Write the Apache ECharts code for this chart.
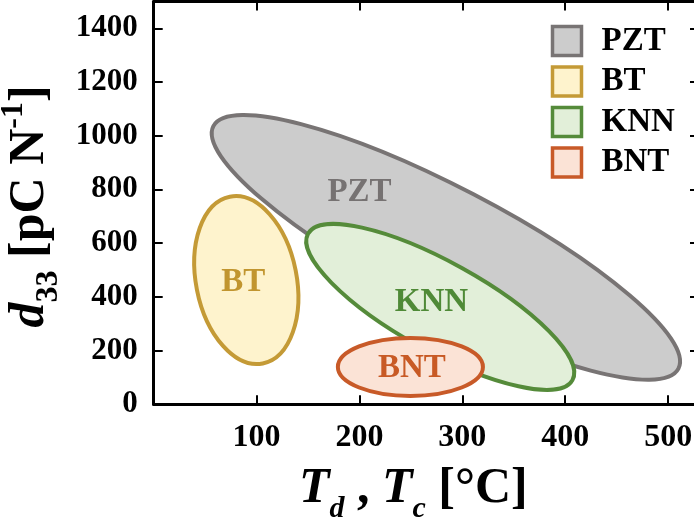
<!DOCTYPE html>
<html>
<head>
<meta charset="utf-8">
<script src="https://cdn.jsdelivr.net/npm/echarts@6/dist/echarts.min.js"></script>
<style>
    html, body { margin: 0; padding: 0; background: #fff; }
    #chart { width: 694px; height: 524px; }
</style>
</head>
<body>
<div id="chart"></div>
<script>
    var materials = ['PZT', 'BT', 'KNN', 'BNT'];
    // each region is an ellipse: two ends of its long axis [T, d33], and short/long axis ratio
    var axisStart = [[58, 1036], [74, 773], [150, 635], [179, 139]];
    var axisEnd = [[510, 133], [106, 152], [407, 90], [320, 139]];
    var widthRatio = [0.228, 0.592, 0.295, 0.4];
    // where the name sits inside each region
    var labelAt = [[200, 790], [87, 454], [270, 379], [251, 132]];
    var fillColors = ['#cccccc', '#fef3cd', '#e2efd9', '#fbe3d6'];
    var edgeColors = ['#787474', '#c49a36', '#558b3a', '#c85a28'];
    var textColors = ['#767272', '#c1952f', '#4f8a37', '#c85a25'];
    var drawOrder = ['PZT', 'KNN', 'BT', 'BNT'];

    var xTicks = [100, 200, 300, 400, 500];
    var yTicks = [0, 200, 400, 600, 800, 1000, 1200, 1400];

    var font = '"Liberation Serif", "Times New Roman", serif';

    var chartDom = document.getElementById('chart');
    var myChart = echarts.init(chartDom);
    var option;

    function renderRegion(params, api) {
        var i = materials.indexOf(params.seriesName);
        var p1 = api.coord([api.value(0), api.value(1)]);
        var p2 = api.coord([api.value(2), api.value(3)]);
        var dx = p2[0] - p1[0];
        var dy = p2[1] - p1[1];
        var a = Math.sqrt(dx * dx + dy * dy) / 2;
        var b = a * api.value(4);
        var t = api.coord([api.value(5), api.value(6)]);
        return {
            type: 'group',
            children: [{
                type: 'ellipse',
                x: (p1[0] + p2[0]) / 2,
                y: (p1[1] + p2[1]) / 2,
                rotation: -Math.atan2(dy, dx),
                shape: { cx: 0, cy: 0, rx: a, ry: b },
                style: { fill: fillColors[i], stroke: edgeColors[i], lineWidth: 4 }
            }, {
                type: 'text',
                x: t[0],
                y: t[1],
                style: {
                    text: materials[i],
                    fill: textColors[i],
                    fontFamily: font,
                    fontWeight: 'bold',
                    fontSize: 33,
                    align: 'center',
                    verticalAlign: 'middle'
                }
            }]
        };
    }

    var axisLine = { show: true, onZero: false, lineStyle: { color: '#000', width: 3 } };
    var axisTick = { show: true, inside: true, length: 9, lineStyle: { color: '#000', width: 2 } };

    option = {
        animation: false,
        backgroundColor: '#fff',
        grid: { left: 153.7, top: 1.5, right: -5, bottom: 119.7, outerBoundsMode: 'none', containLabel: false },
        legend: {
            orient: 'vertical',
            left: 550.75,
            top: 24.5,
            padding: 0,
            itemWidth: 29,
            itemHeight: 29,
            itemGap: 7.5,
            icon: 'rect',
            textStyle: { fontFamily: font, fontWeight: 'bold', fontSize: 33, color: '#000', padding: [0, 0, 0, 15] },
            data: materials.map(function (m, i) {
                return { name: m, itemStyle: { color: fillColors[i], borderColor: edgeColors[i], borderWidth: 3.5 } };
            })
        },
        xAxis: [{
            type: 'value',
            min: 0,
            max: 530,
            interval: 100,
            position: 'bottom',
            axisLine: axisLine,
            axisTick: axisTick,
            splitLine: { show: false },
            axisLabel: {
                margin: 17,
                fontFamily: font,
                fontWeight: 'bold',
                fontSize: 32,
                color: '#000',
                formatter: function (v) { return xTicks.indexOf(v) >= 0 ? String(v) : ''; }
            },
            name: '{i|T}{s|d}{m| , }{i|T}{s|c}{m| [°C]}',
            nameLocation: 'middle',
            nameGap: 60,
            nameTextStyle: {
                padding: [0, 26, 0, 0],
                rich: {
                    i: { fontFamily: font, fontStyle: 'italic', fontWeight: 'bold', fontSize: 50, lineHeight: 50, verticalAlign: 'top', color: '#000' },
                    m: { fontFamily: font, fontWeight: 'bold', fontSize: 50, lineHeight: 50, verticalAlign: 'top', color: '#000' },
                    s: { fontFamily: font, fontStyle: 'italic', fontWeight: 'bold', fontSize: 30, lineHeight: 30, padding: [30, 0, 0, 0], verticalAlign: 'top', color: '#000' }
                }
            }
        }, {
            type: 'value',
            min: 0,
            max: 530,
            interval: 100,
            position: 'top',
            axisLine: axisLine,
            axisTick: axisTick,
            axisLabel: { show: false },
            splitLine: { show: false }
        }],
        yAxis: [{
            type: 'value',
            min: 0,
            max: 1500,
            interval: 200,
            position: 'left',
            axisLine: axisLine,
            axisTick: axisTick,
            splitLine: { show: false },
            axisLabel: {
                margin: 16,
                fontFamily: font,
                fontWeight: 'bold',
                fontSize: 31,
                color: '#000',
                formatter: function (v) { return yTicks.indexOf(v) >= 0 ? String(v) : ''; }
            },
            name: '{i|d}{s|33}{m| [pC N}{p|-1}{m|]}',
            nameLocation: 'middle',
            nameGap: 86.7,
            nameTextStyle: {
                padding: [0, 7, 0, 0],
                rich: {
                    i: { fontFamily: font, fontStyle: 'italic', fontWeight: 'bold', fontSize: 50, lineHeight: 50, padding: [7, 0, 0, 0], verticalAlign: 'top', color: '#000' },
                    m: { fontFamily: font, fontWeight: 'bold', fontSize: 50, lineHeight: 50, padding: [7, 0, 0, 0], verticalAlign: 'top', color: '#000' },
                    s: { fontFamily: font, fontWeight: 'bold', fontSize: 32, lineHeight: 32, padding: [35, 0, 0, 0], verticalAlign: 'top', color: '#000' },
                    p: { fontFamily: font, fontWeight: 'bold', fontSize: 32, lineHeight: 32, verticalAlign: 'top', color: '#000' }
                }
            }
        }, {
            type: 'value',
            min: 0,
            max: 1500,
            interval: 200,
            position: 'right',
            axisLine: axisLine,
            axisTick: axisTick,
            axisLabel: { show: false },
            splitLine: { show: false }
        }],
        series: drawOrder.map(function (m) {
            var i = materials.indexOf(m);
            return {
                name: m,
                type: 'custom',
                xAxisIndex: 0,
                yAxisIndex: 0,
                itemStyle: { color: fillColors[i], borderColor: edgeColors[i] },
                renderItem: renderRegion,
                encode: { x: [0, 2, 5], y: [1, 3, 6] },
                data: [[axisStart[i][0], axisStart[i][1], axisEnd[i][0], axisEnd[i][1], widthRatio[i], labelAt[i][0], labelAt[i][1]]]
            };
        })
    };

    option && myChart.setOption(option);
</script>
</body>
</html>
